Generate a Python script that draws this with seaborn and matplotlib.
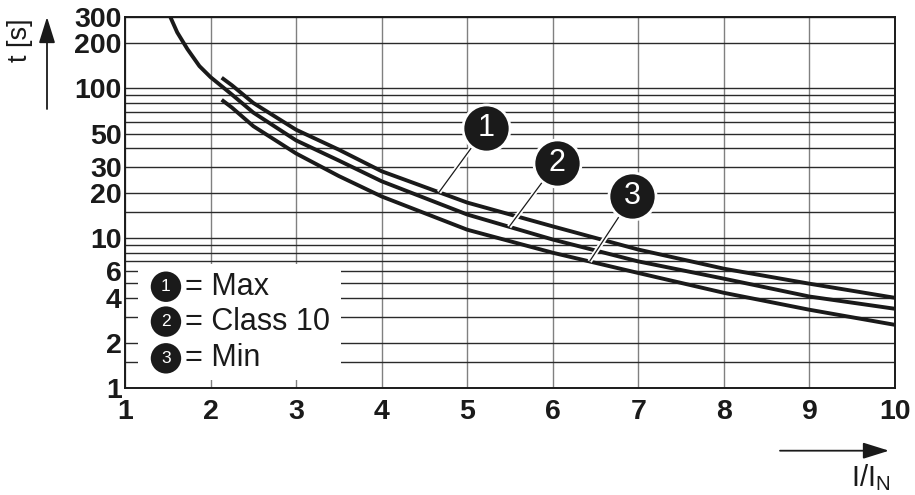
import numpy as np
import pandas as pd
import matplotlib
matplotlib.use("Agg")
import matplotlib.pyplot as plt
import matplotlib.patheffects as pe
from matplotlib.patches import Rectangle, FancyArrowPatch
import seaborn as sns

# ---- data ----
x_max = [2.13, 2.25, 2.5, 3, 3.5, 4, 5, 6, 7, 8, 9, 10]
t_max = [118, 105, 80, 53, 39, 28, 17.3, 12.0, 8.4, 6.26, 4.97, 4.0]
x_cls = [1.53, 1.61, 1.73, 1.87, 2.0, 2.25, 2.5, 3, 3.5, 4, 5, 6, 7, 8, 9, 10]
t_cls = [300, 237, 183, 141, 119, 91, 69, 45, 33, 24, 14.4, 9.8, 7.0, 5.37, 4.08, 3.38]
x_min = [2.13, 2.25, 2.5, 3, 3.5, 4, 5, 6, 7, 8, 9, 10]
t_min = [84, 74.5, 56, 36.8, 26, 19, 11.4, 8.0, 5.86, 4.32, 3.33, 2.64]

curve_ids = ["1", "2", "3"]
curve_names = ["Max", "Class 10", "Min"]
x_ticks = [1, 2, 3, 4, 5, 6, 7, 8, 9, 10]
y_ticks = [1, 2, 4, 6, 10, 20, 30, 50, 100, 200, 300]
y_grid = [1.5, 3, 5, 7, 8, 9, 15, 40, 60, 70, 80, 90]

df = pd.concat([
    pd.DataFrame({"x": x_max, "t": t_max, "curve": "1"}),
    pd.DataFrame({"x": x_cls, "t": t_cls, "curve": "2"}),
    pd.DataFrame({"x": x_min, "t": t_min, "curve": "3"}),
])

sns.set_style("white")
plt.rcParams["font.family"] = ["Liberation Sans", "DejaVu Sans"]

fig = plt.figure(figsize=(9.15, 4.95), dpi=100)
ax = fig.add_axes([125 / 915, 1 - 388 / 495, 770 / 915, 371 / 495])

sns.lineplot(data=df, x="x", y="t", hue="curve", palette=["#1a1a1a"] * 3,
             estimator=None, sort=False, lw=2.8, legend=False, ax=ax, zorder=3)
for line in ax.get_lines():
    line.set_solid_capstyle("butt")
    line.set_solid_joinstyle("round")

ax.set_yscale("log")
ax.set_xlim(1, 10)
ax.set_ylim(1, 300)

ax.set_xticks(x_ticks)
ax.set_xticklabels([str(v) for v in x_ticks])
ax.set_yticks(y_ticks)
ax.set_yticklabels([str(v) for v in y_ticks])
ax.set_yticks(y_grid, minor=True)
ax.yaxis.set_minor_formatter(matplotlib.ticker.NullFormatter())
ax.tick_params(axis="both", which="both", length=0)
ax.tick_params(axis="y", pad=2.5)
ax.tick_params(axis="x", pad=8)
for lab in ax.get_xticklabels() + ax.get_yticklabels():
    lab.set_fontsize(20.5)
    lab.set_fontweight("bold")
    lab.set_color("#1a1a1a")

ax.set_axisbelow(True)
ax.xaxis.grid(True, which="major", color="#808080", lw=1.0)
ax.yaxis.grid(True, which="both", color="#2a2a2a", lw=1.0)
for s in ax.spines.values():
    s.set_color("#1a1a1a")
    s.set_linewidth(1.4)
ax.set_xlabel("")
ax.set_ylabel("")

# legend box (white, no border)
ax.add_patch(Rectangle((0.0169, 0.0216), 0.2636, 0.3124, transform=ax.transAxes,
                       facecolor="white", edgecolor="none", zorder=1))
leg_y = [0.273, 0.179, 0.080]
for cid, name, yy in zip(curve_ids, curve_names, leg_y):
    ax.scatter([0.0532], [yy], s=480, color="#1a1a1a", transform=ax.transAxes,
               zorder=4, clip_on=False, edgecolors="none")
    ax.text(0.0532, yy, cid, transform=ax.transAxes, color="white", fontsize=12.5,
            ha="center", va="center", zorder=5)
    ax.text(0.0779, yy, "= " + name, transform=ax.transAxes, color="#1a1a1a",
            fontsize=22, ha="left", va="center", zorder=5)

# callouts
halo = [pe.Stroke(linewidth=3.5, foreground="white"), pe.Normal()]
series = [(x_max, t_max), (x_cls, t_cls), (x_min, t_min)]
circle_xy = [(5.22, 54.7), (6.045, 31.9), (6.93, 19.05)]
end_x = [4.67, 5.49, 6.43]
for cid, (xs, ts), (cx, cy), ex in zip(curve_ids, series, circle_xy, end_x):
    ey = 10 ** np.interp(ex, xs, np.log10(ts))
    ax.plot([cx, ex], [cy, ey], color="#1a1a1a", lw=0.9, zorder=5,
            path_effects=halo, solid_capstyle="butt")
    ax.scatter([cx], [cy], s=1150, color="#1a1a1a", edgecolors="white",
               linewidths=2.0, zorder=6)
    ax.text(cx, cy, cid, color="white", fontsize=22, ha="center", va="center",
            zorder=7)

# y-axis label with arrow
fig.text(20 / 915, 1 - 40 / 495, "t [s]", rotation=90, fontsize=19.5,
         ha="center", va="center", color="#1a1a1a")
fig.patches.append(FancyArrowPatch(
    (47 / 915, 1 - 109 / 495), (47 / 915, 1 - 17 / 495), transform=fig.transFigure,
    arrowstyle="-|>,head_width=0.25,head_length=0.8", mutation_scale=20,
    color="#1a1a1a", lw=1.3, shrinkA=0, shrinkB=0))

# x-axis label with arrow
fig.patches.append(FancyArrowPatch(
    (780 / 915, 1 - 450.7 / 495), (889 / 915, 1 - 450.7 / 495), transform=fig.transFigure,
    arrowstyle="-|>,head_width=0.25,head_length=0.8", mutation_scale=20,
    color="#1a1a1a", lw=1.3, shrinkA=0, shrinkB=0))
fig.text(851 / 915, 1 - 486 / 495, r"I/I$_\mathregular{N}$", fontsize=21,
         ha="left", va="baseline", color="#1a1a1a")

fig.savefig("out.png", dpi=100, facecolor="white")
